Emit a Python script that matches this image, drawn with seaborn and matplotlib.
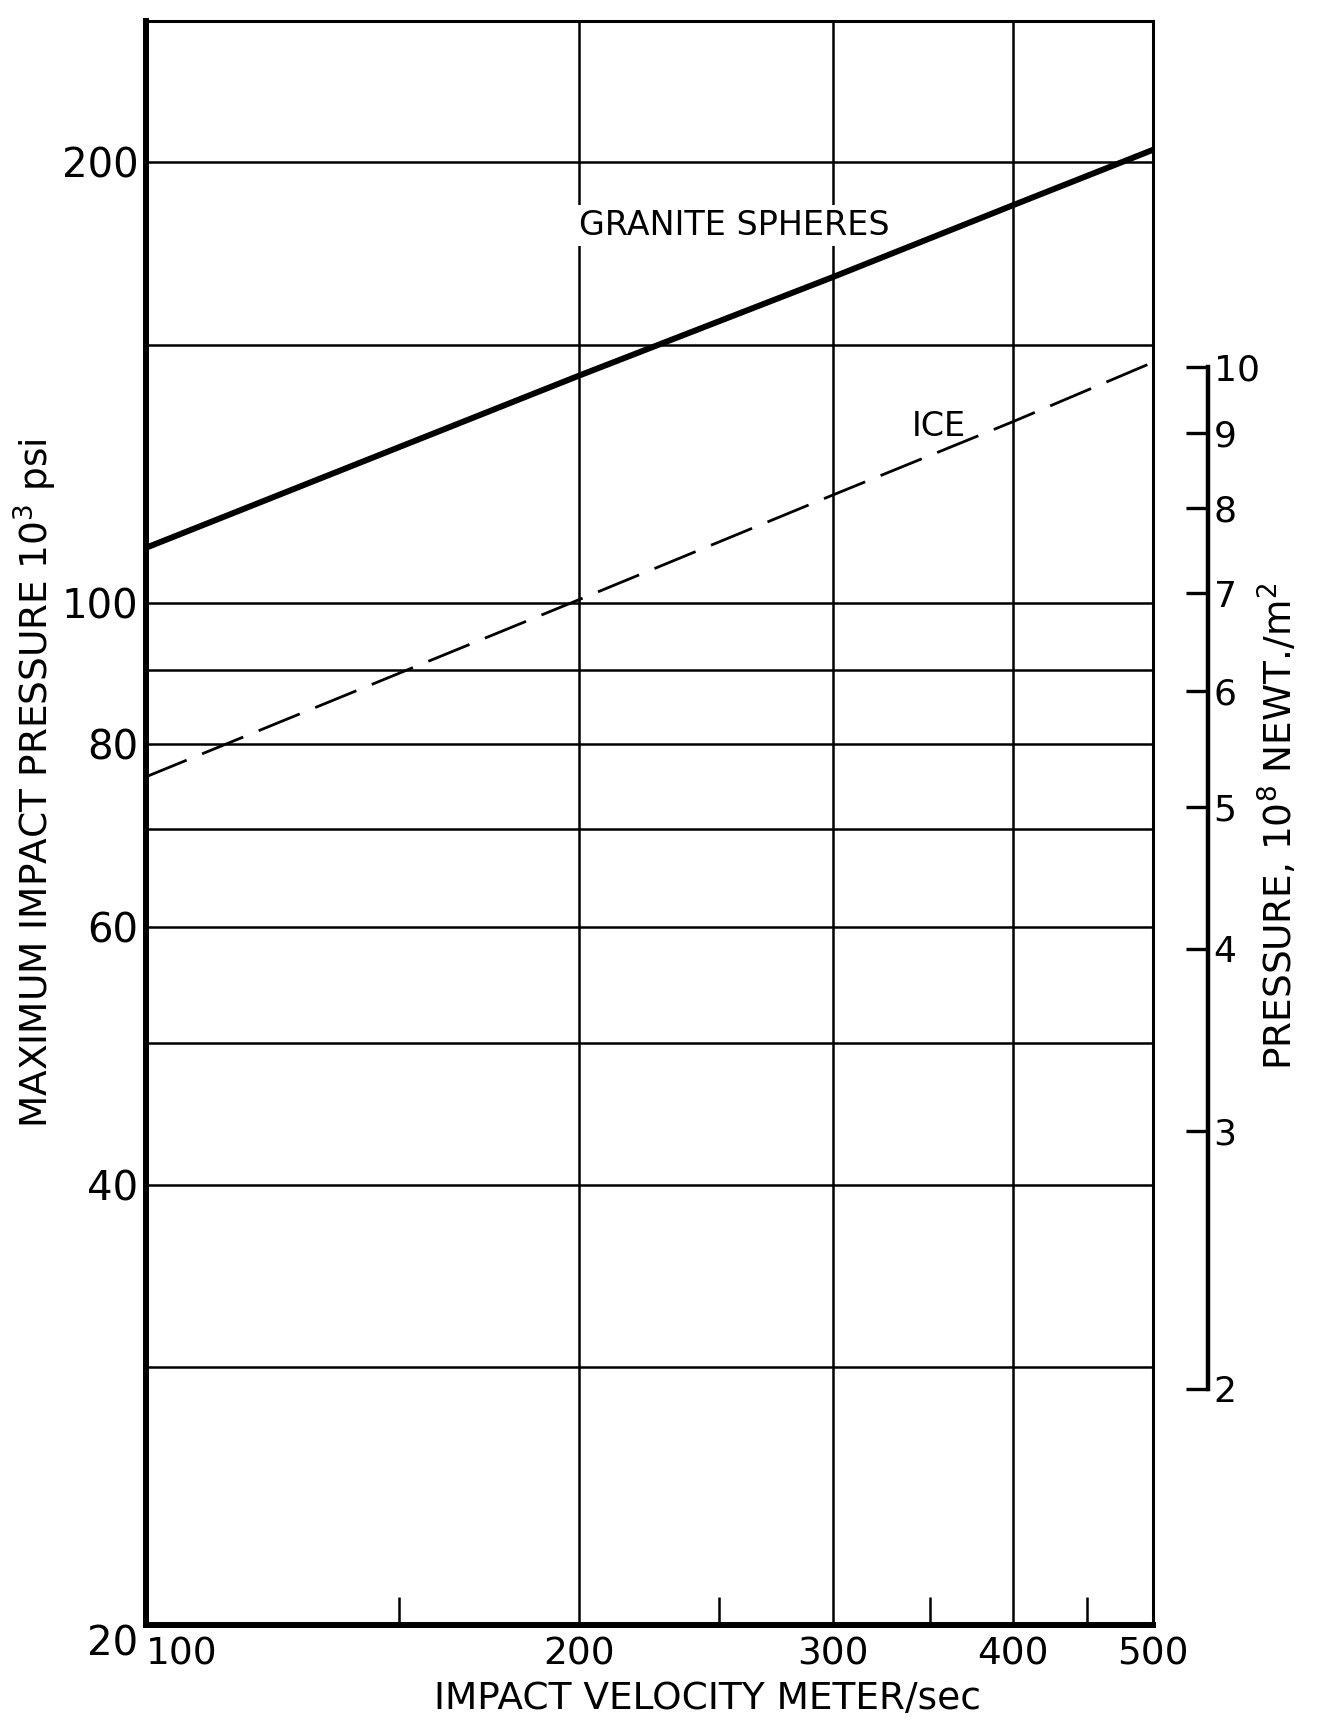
import matplotlib
matplotlib.use('Agg')
import matplotlib.pyplot as plt
import seaborn as sns
import pandas as pd
from matplotlib.ticker import FixedLocator, NullFormatter, NullLocator

# values
velocity = [100, 200, 300, 400, 500]          # meter/sec
granite = [109, 143, 167, 187, 204]           # 10^3 psi
ice = [76, 100.5, 118.5, 133, 146]            # 10^3 psi

y_major = [20, 40, 60, 80, 100, 200]
y_minor = [30, 50, 70, 90, 150]
x_major = [100, 200, 300, 400, 500]
x_minor = [150, 250, 350, 450]
right_ticks = [2, 3, 4, 5, 6, 7, 8, 9, 10]    # 10^8 N/m^2

KSI_TO_1E8PA = 0.06895

df = pd.DataFrame({'velocity': velocity, 'granite': granite, 'ice': ice})

sns.set_style('white')
plt.rcParams['font.family'] = ['DejaVu Sans']
for key in ['text.color', 'axes.labelcolor', 'xtick.color', 'ytick.color']:
    plt.rcParams[key] = 'black'

fig = plt.figure(figsize=(13.23, 17.21), dpi=100)
ax = fig.add_axes([0.110, 0.0558, 0.7615, 0.9322])
ax.set_xscale('log')
ax.set_yscale('log')

sns.lineplot(data=df, x='velocity', y='granite', ax=ax, color='black',
             linewidth=4.3, zorder=3)
sns.lineplot(data=df, x='velocity', y='ice', ax=ax, color='black',
             linewidth=2.0, linestyle=(0, (16, 6)), zorder=3)

ax.set_xlim(100, 500)
ax.set_ylim(20, 250)

# ticks and grid
ax.xaxis.set_major_locator(FixedLocator(x_major))
ax.xaxis.set_minor_locator(FixedLocator(x_minor))
ax.xaxis.set_minor_formatter(NullFormatter())
ax.set_xticks(x_major, [str(v) for v in x_major])
ax.yaxis.set_major_locator(FixedLocator(y_major))
ax.yaxis.set_minor_locator(FixedLocator(y_minor))
ax.yaxis.set_minor_formatter(NullFormatter())
ax.set_yticks(y_major, [str(v) for v in y_major])

ax.grid(True, which='major', axis='x', color='black', linewidth=1.8)
ax.grid(True, which='both', axis='y', color='black', linewidth=1.8)
ax.set_axisbelow(True)

ax.tick_params(axis='x', which='major', direction='in', length=0, pad=8,
               labelsize=27)
ax.tick_params(axis='x', which='minor', direction='in', length=20,
               width=1.8, color='black', bottom=True, top=False)
ax.tick_params(axis='y', which='both', direction='in', length=0, pad=5,
               labelsize=29)
ax.get_xticklabels()[0].set_horizontalalignment('left')
ax.get_yticklabels()[0].set_verticalalignment('top')

for side in ['left', 'bottom']:
    ax.spines[side].set_linewidth(4.3)
    ax.spines[side].set_color('black')
for side in ['top', 'right']:
    ax.spines[side].set_linewidth(2.2)
    ax.spines[side].set_color('black')

ax.set_xlabel('')
ax.set_ylabel('')

# curve labels
ax.text(256, 181, 'GRANITE SPHERES', fontsize=24, ha='center', va='center',
        zorder=2.5, bbox=dict(facecolor='white', edgecolor='none', pad=3))
ax.text(355, 132, 'ICE', fontsize=24, ha='center', va='center', zorder=2.5)

# pressure scale in 10^8 N/m^2
sec = ax.secondary_yaxis(1.0546, functions=(lambda y: y * KSI_TO_1E8PA,
                                            lambda p: p / KSI_TO_1E8PA))
sec.set_yticks(right_ticks, [str(v) for v in right_ticks])
sec.yaxis.set_minor_locator(NullLocator())
sec.spines['right'].set_bounds(2, 10)
sec.spines['right'].set_linewidth(3.2)
sec.spines['right'].set_color('black')
sec.tick_params(axis='y', direction='in', length=16, width=2.4,
                color='black', pad=4, labelsize=26)

# axis titles
fig.text(0.027, 0.545, 'MAXIMUM IMPACT PRESSURE 10$^3$ psi', rotation=90,
         ha='center', va='center', fontsize=27)
fig.text(0.967, 0.52, 'PRESSURE, 10$^8$ NEWT./m$^2$', rotation=90,
         ha='center', va='center', fontsize=27)
fig.text(0.535, 0.013, 'IMPACT VELOCITY METER/sec', ha='center',
         va='center', fontsize=27)

fig.savefig('out.png', dpi=100)
